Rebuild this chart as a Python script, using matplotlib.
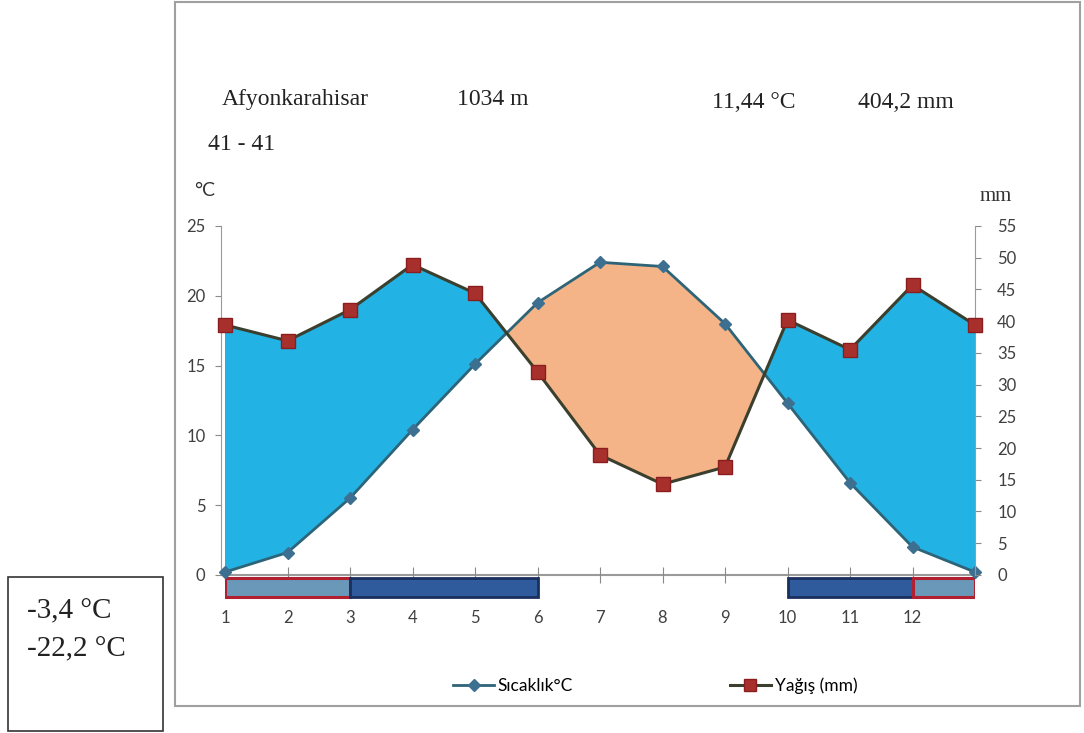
import matplotlib
matplotlib.use("Agg")
import matplotlib.pyplot as plt
from matplotlib.patches import Rectangle
from matplotlib.lines import Line2D
import numpy as np

plt.rcParams["font.family"] = ["Lato", "DejaVu Sans"]

# data (13th point repeats January, as in the original)
months = np.arange(1, 14)
month_labels = ["1", "2", "3", "4", "5", "6", "7", "8", "9", "10", "11", "12"]
temp = np.array([0.2, 1.6, 5.5, 10.4, 15.1, 19.5, 22.4, 22.1, 18.0, 12.3, 6.6, 2.0, 0.2])
precip = np.array([39.4, 36.9, 41.8, 48.9, 44.4, 32.0, 18.9, 14.3, 17.0, 40.2, 35.5, 45.7, 39.4])
mm_per_deg = 55 / 25.

# frost bars below the axis: (start, end, kind)
frost = [(1, 3, "abs"), (3, 6, "mean"), (10, 12, "mean"), (12, 13, "abs")]

station = "Afyonkarahisar"
years = "41 - 41"
altitude = "1034 m"
mean_temp = "11,44 °C"
total_prec = "404,2 mm"
box_lines = ["-3,4 °C", "-22,2 °C"]

c_blue = "#22b2e3"
c_orange = "#f4b487"
c_temp = "#2e6478"
c_prec = "#3b3f2e"
c_mark = "#a8302c"

W, H = 1084., 733.
fig = plt.figure(figsize=(10.84, 7.33), dpi=100)

# outer frame and min-temp box
fig.patches.append(Rectangle((175/W, 1-706/H), 905/W, 704/H, transform=fig.transFigure,
                             fill=False, edgecolor="#a0a0a0", lw=1.5))
fig.patches.append(Rectangle((8/W, 1-731/H), 155/W, 154/H, transform=fig.transFigure,
                             fill=False, edgecolor="#333333", lw=1.2))
fig.text(27/W, 1-611/H, box_lines[0], family="Liberation Serif", fontsize=21, va="center", ha="left", color="#222222")
fig.text(27/W, 1-649/H, box_lines[1], family="Liberation Serif", fontsize=21, va="center", ha="left", color="#222222")

ylo = -1.8
ax = fig.add_axes([225/W, 1-600/H, 750/W, 374/H])
ax.set_xlim(1, 13)
ax.set_ylim(ylo, 25)

pr_deg = precip / mm_per_deg
ax.fill_between(months, temp, pr_deg, where=pr_deg >= temp, interpolate=True, color=c_blue, lw=0)
ax.fill_between(months, temp, pr_deg, where=pr_deg <= temp, interpolate=True, color=c_orange, lw=0)
ax.plot(months, temp, color=c_temp, lw=2, marker="D", ms=6, mfc="#3d7090", mec="#3d7090", zorder=4, clip_on=False)

for s, e, kind in frost:
    if kind == "abs":
        ax.add_patch(Rectangle((s, -1.6), e - s, 1.35, facecolor="#6a98b8", edgecolor="#b02030", lw=2.2, zorder=3))
    else:
        ax.add_patch(Rectangle((s, -1.6), e - s, 1.35, facecolor="#2f5a9c", edgecolor="#1b2f5e", lw=2, zorder=3))

for sp in ["top", "right"]:
    ax.spines[sp].set_visible(False)
ax.spines["bottom"].set_position(("data", 0))
ax.spines["bottom"].set_color("#9a9a9a")
ax.spines["bottom"].set_linewidth(1.5)
ax.spines["bottom"].set_zorder(1)
ax.spines["left"].set_bounds(0, 25)
ax.spines["left"].set_color("#9a9a9a")
ax.spines["left"].set_position(("outward", 3))
ax.set_yticks([0, 5, 10, 15, 20, 25])
ax.set_xticks(months[:12])
ax.set_xticklabels(month_labels)
ax.tick_params(axis="x", direction="inout", length=12, color="#8a8a8a", pad=19, labelsize=12, labelcolor="#404040")
ax.tick_params(axis="y", length=4, color="#8a8a8a", pad=7, labelsize=12, labelcolor="#404040")

ax2 = ax.twinx()
ax2.set_ylim(ylo * mm_per_deg, 55)
ax2.plot(months, precip, color=c_prec, lw=2.2, marker="s", ms=10, mfc=c_mark, mec="#8a1e1e", zorder=5, clip_on=False)
for sp in ["top", "bottom", "left"]:
    ax2.spines[sp].set_visible(False)
ax2.spines["right"].set_bounds(0, 55)
ax2.spines["right"].set_color("#9a9a9a")
ax2.set_yticks(np.arange(0, 56, 5))
ax2.tick_params(axis="y", length=4, color="#8a8a8a", pad=12, labelsize=12, labelcolor="#404040")

# header texts
serif = "Liberation Serif"
fig.text(222/W, 1-105/H, station, family=serif, fontsize=17, va="baseline", color="#222222")
fig.text(208/W, 1-150/H, years, family=serif, fontsize=17, va="baseline", color="#222222")
fig.text(457/W, 1-105/H, altitude, family=serif, fontsize=17, va="baseline", color="#222222")
fig.text(712/W, 1-108/H, mean_temp, family=serif, fontsize=17, va="baseline", color="#222222")
fig.text(858/W, 1-108/H, total_prec, family=serif, fontsize=17, va="baseline", color="#222222")
fig.text(194/W, 1-191/H, "°C", fontsize=14, va="center", color="#333333")
fig.text(980/W, 1-196/H, "mm", family=serif, fontsize=15, va="center", color="#333333")

handles = [Line2D([], [], color=c_temp, lw=2, marker="D", ms=6, mfc="#3d7090", mec="#3d7090"),
           Line2D([], [], color=c_prec, lw=2.2, marker="s", ms=9, mfc=c_mark, mec="#8a1e1e")]
fig.legend(handles, ["Sıcaklık°C", "Yağış (mm)"], loc="center", bbox_to_anchor=(655/W, 1-686/H),
           ncol=2, frameon=False, fontsize=12.5, columnspacing=9, handlelength=2.4, handletextpad=0.2)

fig.savefig("out.png", dpi=100)
